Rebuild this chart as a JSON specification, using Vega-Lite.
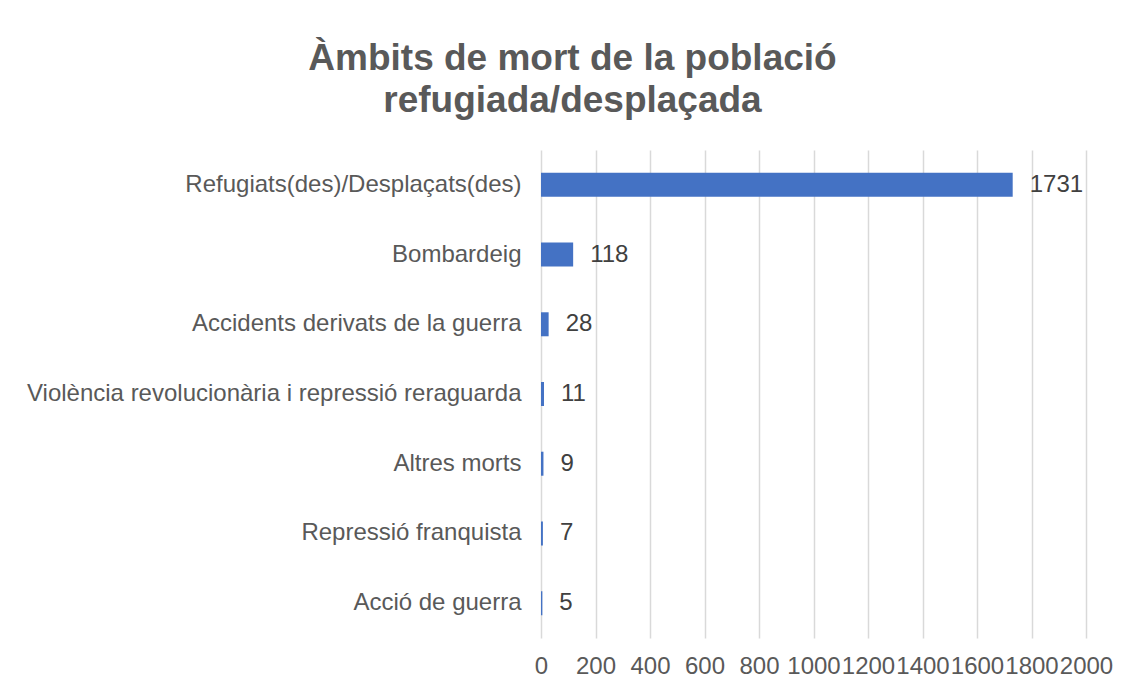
{
  "$schema": "https://vega.github.io/schema/vega-lite/v6.json",
  "autosize": {"type": "none"},
  "width": 545,
  "height": 488,
  "padding": {"left": 541, "top": 150, "right": 45, "bottom": 51},
  "background": "white",
  "title": {
    "text": ["Àmbits de mort de la població", "refugiada/desplaçada"],
    "anchor": "middle",
    "frame": "group",
    "dx": -241,
    "offset": 30,
    "font": "Liberation Sans",
    "fontSize": 37,
    "fontWeight": "bold",
    "color": "#595959",
    "lineHeight": 42
  },
  "config": {
    "view": {"stroke": null},
    "font": "Liberation Sans"
  },
  "data": {
    "values": [
      {"ambit": "Refugiats(des)/Desplaçats(des)", "morts": 1731},
      {"ambit": "Bombardeig", "morts": 118},
      {"ambit": "Accidents derivats de la guerra", "morts": 28},
      {"ambit": "Violència revolucionària i repressió reraguarda", "morts": 11},
      {"ambit": "Altres morts", "morts": 9},
      {"ambit": "Repressió franquista", "morts": 7},
      {"ambit": "Acció de guerra", "morts": 5}
    ]
  },
  "encoding": {
    "y": {
      "field": "ambit",
      "type": "nominal",
      "sort": null,
      "scale": {"paddingInner": 0, "paddingOuter": 0},
      "axis": {
        "title": null,
        "domain": false,
        "ticks": false,
        "grid": false,
        "labelPadding": 20,
        "labelFont": "Liberation Sans",
        "labelFontSize": 24,
        "labelColor": "#595959",
        "labelLimit": 0
      }
    },
    "x": {
      "field": "morts",
      "type": "quantitative",
      "scale": {"domain": [0, 2000], "nice": false},
      "axis": {
        "title": null,
        "values": [0, 200, 400, 600, 800, 1000, 1200, 1400, 1600, 1800, 2000],
        "format": "d",
        "domain": false,
        "ticks": false,
        "grid": true,
        "gridColor": "#d9d9d9",
        "gridWidth": 1.5,
        "labelPadding": 16,
        "labelFont": "Liberation Sans",
        "labelFontSize": 24,
        "labelColor": "#595959",
        "labelOverlap": false,
        "labelFlush": false
      }
    }
  },
  "layer": [
    {"mark": {"type": "bar", "size": 24, "color": "#4472C4"}},
    {
      "mark": {"type": "text", "align": "left", "baseline": "middle", "dx": 17, "fontSize": 24, "color": "#404040", "font": "Liberation Sans"},
      "encoding": {"text": {"field": "morts", "type": "quantitative"}}
    }
  ]
}
